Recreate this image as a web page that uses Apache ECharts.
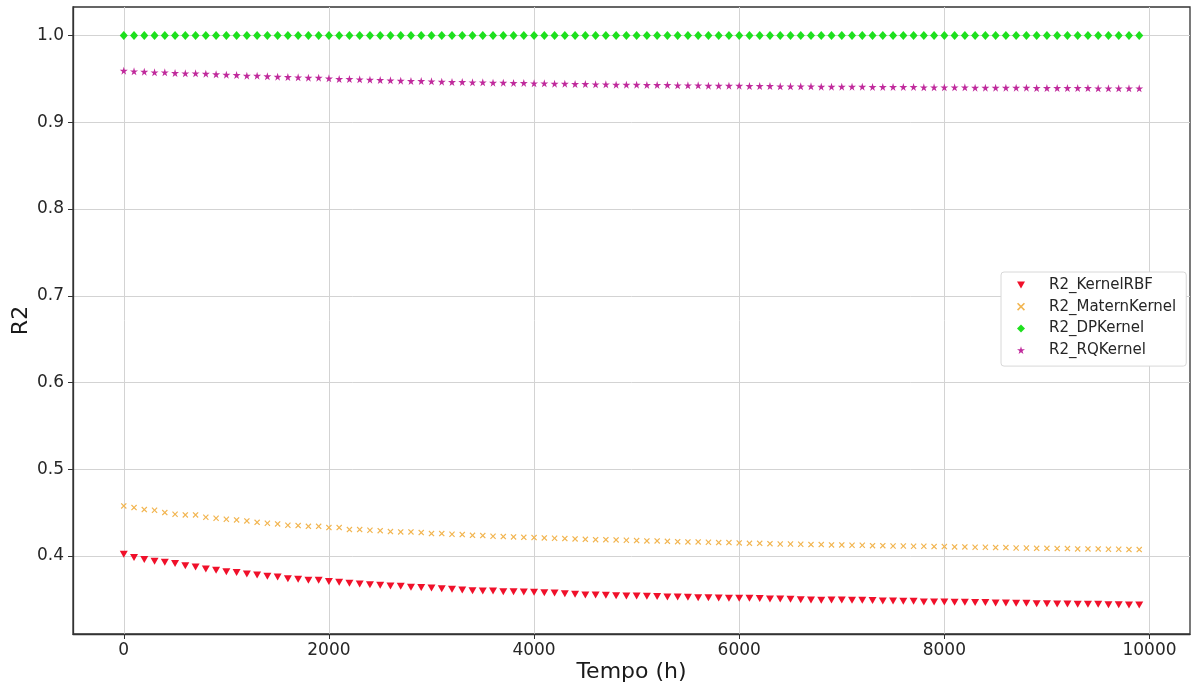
<!DOCTYPE html>
<html>
<head>
<meta charset="utf-8">
<script src="https://cdn.jsdelivr.net/npm/echarts@6/dist/echarts.min.js"></script>
<style>
html,body{margin:0;padding:0;background:#fff;}
#chart{width:1193px;height:686px;}
</style>
</head>
<body>
<div id="chart"></div>
<script>
const tempo = [0,100,200,300,400,500,600,700,800,900,1000,1100,1200,1300,1400,1500,1600,1700,1800,1900,
2000,2100,2200,2300,2400,2500,2600,2700,2800,2900,3000,3100,3200,3300,3400,3500,3600,3700,3800,3900,
4000,4100,4200,4300,4400,4500,4600,4700,4800,4900,5000,5100,5200,5300,5400,5500,5600,5700,5800,5900,
6000,6100,6200,6300,6400,6500,6600,6700,6800,6900,7000,7100,7200,7300,7400,7500,7600,7700,7800,7900,
8000,8100,8200,8300,8400,8500,8600,8700,8800,8900,9000,9100,9200,9300,9400,9500,9600,9700,9800,9900];

const r2KernelRBF = [0.4019,0.3981,0.3958,0.3938,0.3927,0.3912,0.3888,0.3873,0.3850,0.3835,
0.3819,0.3808,0.3792,0.3781,0.3765,0.3758,0.3738,0.3731,0.3719,0.3719,
0.3704,0.3696,0.3685,0.3677,0.3669,0.3662,0.3654,0.3650,0.3639,0.3635,
0.3631,0.3623,0.3615,0.3608,0.3600,0.3596,0.3596,0.3588,0.3588,0.3584,
0.3581,0.3577,0.3573,0.3565,0.3558,0.3550,0.3550,0.3546,0.3542,0.3538,
0.3538,0.3535,0.3531,0.3527,0.3527,0.3523,0.3519,0.3519,0.3515,0.3512,
0.3512,0.3512,0.3508,0.3504,0.3504,0.3500,0.3496,0.3492,0.3489,0.3492,
0.3492,0.3489,0.3489,0.3485,0.3481,0.3481,0.3477,0.3477,0.3469,0.3469,
0.3469,0.3465,0.3465,0.3462,0.3462,0.3458,0.3458,0.3454,0.3454,0.3450,
0.3450,0.3446,0.3446,0.3442,0.3442,0.3442,0.3438,0.3438,0.3435,0.3435];

const r2MaternKernel = [0.4577,0.4558,0.4535,0.4527,0.4500,0.4481,0.4473,0.4473,0.4446,0.4435,
0.4423,0.4415,0.4404,0.4388,0.4377,0.4369,0.4354,0.4350,0.4342,0.4342,
0.4327,0.4327,0.4304,0.4304,0.4296,0.4292,0.4281,0.4277,0.4277,0.4269,
0.4258,0.4258,0.4250,0.4246,0.4238,0.4235,0.4227,0.4223,0.4219,0.4215,
0.4212,0.4208,0.4204,0.4200,0.4196,0.4192,0.4188,0.4188,0.4185,0.4181,
0.4177,0.4173,0.4173,0.4169,0.4165,0.4162,0.4162,0.4158,0.4154,0.4154,
0.4150,0.4146,0.4146,0.4142,0.4138,0.4138,0.4135,0.4131,0.4131,0.4127,
0.4127,0.4123,0.4123,0.4119,0.4119,0.4115,0.4115,0.4112,0.4112,0.4108,
0.4108,0.4104,0.4104,0.4100,0.4100,0.4096,0.4096,0.4092,0.4092,0.4088,
0.4088,0.4085,0.4085,0.4081,0.4081,0.4081,0.4077,0.4077,0.4073,0.4073];

const r2DPKernel = [1.0,1.0,1.0,1.0,1.0,1.0,1.0,1.0,1.0,1.0,
1.0,1.0,1.0,1.0,1.0,1.0,1.0,1.0,1.0,1.0,
1.0,1.0,1.0,1.0,1.0,1.0,1.0,1.0,1.0,1.0,
1.0,1.0,1.0,1.0,1.0,1.0,1.0,1.0,1.0,1.0,
1.0,1.0,1.0,1.0,1.0,1.0,1.0,1.0,1.0,1.0,
1.0,1.0,1.0,1.0,1.0,1.0,1.0,1.0,1.0,1.0,
1.0,1.0,1.0,1.0,1.0,1.0,1.0,1.0,1.0,1.0,
1.0,1.0,1.0,1.0,1.0,1.0,1.0,1.0,1.0,1.0,
1.0,1.0,1.0,1.0,1.0,1.0,1.0,1.0,1.0,1.0,
1.0,1.0,1.0,1.0,1.0,1.0,1.0,1.0,1.0,1.0];

const r2RQKernel = [0.9596,0.9588,0.9584,0.9577,0.9577,0.9569,0.9565,0.9565,0.9561,0.9554,
0.9550,0.9546,0.9538,0.9538,0.9531,0.9527,0.9523,0.9519,0.9515,0.9515,
0.9507,0.9500,0.9500,0.9496,0.9492,0.9488,0.9484,0.9481,0.9477,0.9477,
0.9473,0.9469,0.9465,0.9465,0.9461,0.9461,0.9457,0.9457,0.9454,0.9454,
0.9450,0.9450,0.9446,0.9446,0.9442,0.9442,0.9438,0.9438,0.9434,0.9434,
0.9434,0.9431,0.9431,0.9431,0.9427,0.9427,0.9427,0.9423,0.9423,0.9423,
0.9423,0.9419,0.9419,0.9419,0.9415,0.9415,0.9415,0.9415,0.9411,0.9411,
0.9411,0.9411,0.9411,0.9408,0.9408,0.9408,0.9408,0.9408,0.9404,0.9404,
0.9404,0.9404,0.9404,0.9400,0.9400,0.9400,0.9400,0.9400,0.9400,0.9396,
0.9396,0.9396,0.9396,0.9396,0.9396,0.9392,0.9392,0.9392,0.9392,0.9392];

const seriesNames = ['R2_KernelRBF','R2_MaternKernel','R2_DPKernel','R2_RQKernel'];
const xTicks = [0,2000,4000,6000,8000,10000];
const yTicks = [0.4,0.5,0.6,0.7,0.8,0.9,1.0];

const SYM_TRI = 'path://M0,0 L10,0 L5,9 Z';
const SYM_X = 'path://M0,1.4 L1.4,0 L5,3.6 L8.6,0 L10,1.4 L6.4,5 L10,8.6 L8.6,10 L5,6.4 L1.4,10 L0,8.6 L3.6,5 Z';
const SYM_STAR = 'path://M50,0 L61,35 L98,35 L68,57 L79,91 L50,70 L21,91 L32,57 L2,35 L39,35 Z';

function pairs(ys){ return tempo.map((x,i)=>[x, ys[i]]); }

const chart = echarts.init(document.getElementById('chart'), null, {renderer:'canvas'});
const font = 'DejaVu Sans';
chart.setOption({
  animation:false,
  backgroundColor:'#fff',
  textStyle:{fontFamily:font},
  grid:{left:73, top:7, right:3, bottom:52, show:true, borderColor:'#333', borderWidth:1.3,
    backgroundColor:'transparent', containLabel:false, outerBoundsMode:'none'},
  xAxis:{
    type:'value', min:-495, max:10395,
    name:'Tempo (h)', nameLocation:'middle', nameGap:27, nameMoveOverlap:false,
    nameTextStyle:{fontSize:22, color:'#1a1a1a', fontFamily:font},
    axisLine:{show:true, onZero:false, lineStyle:{color:'#333', width:1.3}},
    axisTick:{show:true, length:5, inside:false, customValues:xTicks, lineStyle:{color:'#333'}},
    axisLabel:{customValues:xTicks, fontSize:17, color:'#262626', margin:8, fontFamily:font,
      formatter:v=>String(Math.round(v))},
    splitLine:{show:true, lineStyle:{color:'#d3d3d3', width:1}}
  },
  yAxis:{
    type:'value', min:0.31, max:1.033,
    name:'R2', nameLocation:'middle', nameGap:41, nameRotate:90, nameMoveOverlap:false,
    nameTextStyle:{fontSize:22, color:'#1a1a1a', fontFamily:font},
    axisLine:{show:true, onZero:false, lineStyle:{color:'#333', width:1.3}},
    axisTick:{show:true, length:5, inside:false, customValues:yTicks, lineStyle:{color:'#333'}},
    axisLabel:{customValues:yTicks, fontSize:17, color:'#262626', margin:9, fontFamily:font,
      formatter:v=>v.toFixed(1)},
    splitLine:{show:true, lineStyle:{color:'#d3d3d3', width:1}}
  },
  legend:{
    orient:'vertical', left:1001, top:272,
    backgroundColor:'#fff', borderColor:'#d8d8d8', borderWidth:1, borderRadius:3,
    padding:[5,10,8,16], itemGap:5.7, itemWidth:8, itemHeight:8,
    textStyle:{fontSize:15, lineHeight:16, color:'#262626', fontFamily:font, padding:[0,0,0,19]},
    data:seriesNames
  },
  series:[
    {name:seriesNames[0], type:'scatter', data:pairs(r2KernelRBF), symbol:SYM_TRI, symbolSize:[8,7],
      itemStyle:{color:'#f0102a', opacity:1}},
    {name:seriesNames[1], type:'scatter', data:pairs(r2MaternKernel), symbol:SYM_X, symbolSize:6,
      itemStyle:{color:'#f2b550', opacity:1}},
    {name:seriesNames[2], type:'scatter', data:pairs(r2DPKernel), symbol:'diamond', symbolSize:[8,9],
      itemStyle:{color:'#1ee01e', opacity:1}},
    {name:seriesNames[3], type:'scatter', data:pairs(r2RQKernel), symbol:SYM_STAR, symbolSize:8,
      itemStyle:{color:'#c02a9c', opacity:1}}
  ]
});
</script>
</body>
</html>
